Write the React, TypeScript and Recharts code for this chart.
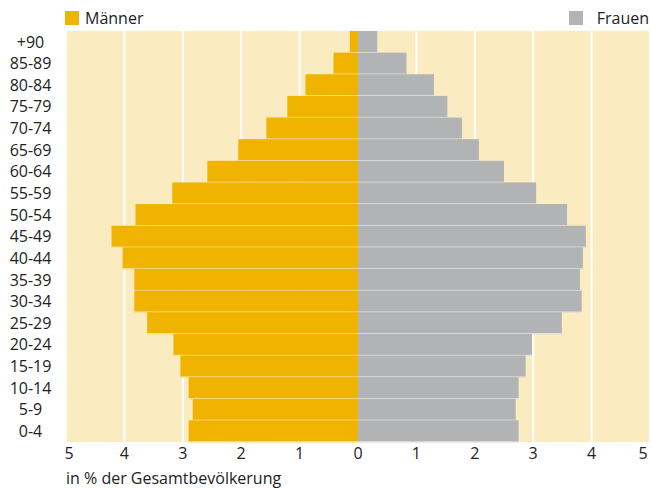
import React from "react";
import {
  BarChart,
  Bar,
  XAxis,
  YAxis,
  CartesianGrid,
} from "recharts";

const ageGroups = [
  "+90", "85-89", "80-84", "75-79", "70-74", "65-69", "60-64", "55-59", "50-54",
  "45-49", "40-44", "35-39", "30-34", "25-29", "20-24", "15-19", "10-14", "5-9", "0-4",
];
const maenner = [
  0.14, 0.42, 0.9, 1.21, 1.57, 2.05, 2.58, 3.18, 3.81,
  4.22, 4.03, 3.83, 3.83, 3.61, 3.16, 3.04, 2.9, 2.83, 2.9,
];
const frauen = [
  0.33, 0.83, 1.3, 1.53, 1.78, 2.07, 2.5, 3.05, 3.58,
  3.9, 3.85, 3.8, 3.83, 3.49, 2.98, 2.87, 2.75, 2.7, 2.75,
];
const xTicks = [-5, -4, -3, -2, -1, 0, 1, 2, 3, 4, 5];

const data = ageGroups.map((age, i) => ({
  age,
  maenner: -maenner[i],
  frauen: frauen[i],
}));

const FONT = "'Open Sans', sans-serif";
const FS = 16;
const GOLD = "#f0b400";
const GRAY = "#b2b3b4";
const CREAM = "#faebc1";
const TEXT = "#222";

const BarShape = (props: any) => {
  const { x, y, width, height, fill } = props;
  const x0 = Math.min(x, x + width);
  const w = Math.abs(width);
  return (
    <g>
      <rect x={x0} y={y} width={w} height={height} fill={fill} />
      <line
        x1={x0}
        x2={x0 + w}
        y1={y + height - 0.5}
        y2={y + height - 0.5}
        stroke="#fff"
        strokeOpacity={0.75}
        strokeWidth={1}
      />
    </g>
  );
};

const AgeTick = (props: any) => {
  const { x, y, payload } = props;
  return (
    <text x={x} y={y} dy="0.36em" textAnchor="middle" fontFamily={FONT} fontSize={FS} fill={TEXT}>
      {payload.value}
    </text>
  );
};

const PercentTick = (props: any) => {
  const { x, y, payload } = props;
  const v = payload.value;
  const shift = v === -5 ? 3 : v === 5 ? -4 : 0;
  return (
    <text x={x + shift} y={y} dy="0.71em" textAnchor="middle" fontFamily={FONT} fontSize={FS} fill={TEXT}>
      {Math.abs(v)}
    </text>
  );
};

const AxisTitle = (props: any) => {
  const { viewBox } = props;
  return (
    <text x={viewBox.x} y={viewBox.y + 42} fontFamily={FONT} fontSize={FS} fill={TEXT}>
      in % der Gesamtbevölkerung
    </text>
  );
};

const legendItem = (color: string, label: string, gap: number) => (
  <div style={{ display: "flex", alignItems: "center" }}>
    <span style={{ width: 14, height: 14, background: color, display: "inline-block", marginRight: gap }} />
    {label}
  </div>
);

export default function App() {
  return (
    <div style={{ position: "absolute", left: 0, top: 0, width: 651, height: 488, background: "#fff" }}>
      <div
        style={{
          position: "absolute",
          left: 65,
          top: 8,
          width: 584,
          display: "flex",
          justifyContent: "space-between",
          fontFamily: FONT,
          fontSize: FS,
          lineHeight: "20px",
          color: TEXT,
        }}
      >
        {legendItem(GOLD, "Männer", 6)}
        {legendItem(GRAY, "Frauen", 14)}
      </div>
      <BarChart
        width={651}
        height={488}
        data={data}
        layout="vertical"
        stackOffset="sign"
        barCategoryGap={0}
        margin={{ top: 31, right: 1, bottom: 0, left: 0 }}
      >
        <CartesianGrid
          horizontal={false}
          vertical
          stroke="#fff"
          strokeWidth={2}
          fill={CREAM}
          fillOpacity={1}
        />
        <XAxis
          type="number"
          domain={[-5, 5]}
          ticks={xTicks}
          axisLine={false}
          tickLine={false}
          tickSize={6}
          tickMargin={0}
          height={46}
          tick={<PercentTick />}
          label={<AxisTitle />}
        />
        <YAxis
          type="category"
          dataKey="age"
          width={66}
          axisLine={false}
          tickLine={false}
          tickSize={0}
          tickMargin={35.5}
          interval={0}
          tick={<AgeTick />}
        />
        <Bar dataKey="maenner" stackId="a" fill={GOLD} shape={<BarShape />} isAnimationActive={false} />
        <Bar dataKey="frauen" stackId="a" fill={GRAY} shape={<BarShape />} isAnimationActive={false} />
      </BarChart>
    </div>
  );
}
